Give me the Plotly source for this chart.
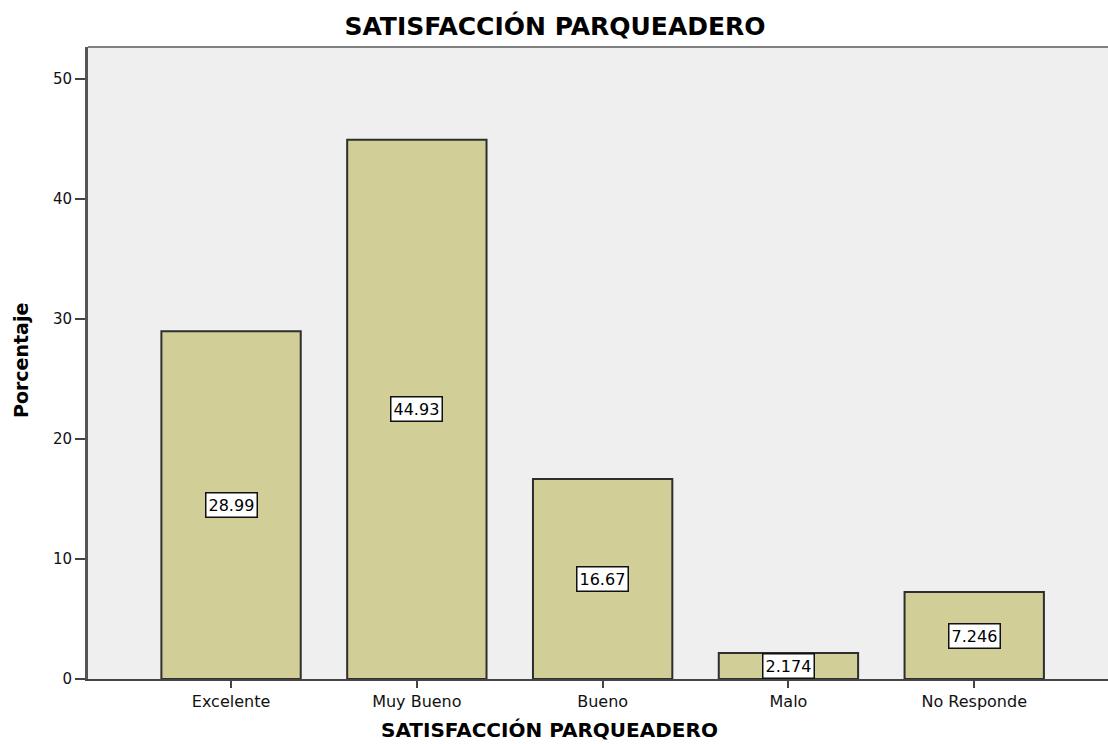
import plotly.graph_objects as go

categories = ["Excelente", "Muy Bueno", "Bueno", "Malo", "No Responde"]
values = [28.99, 44.93, 16.67, 2.174, 7.246]
labels = ["28.99", "44.93", "16.67", "2.174", "7.246"]
y_ticks = [0, 10, 20, 30, 40, 50]

FONT = "DejaVu Sans, Liberation Sans, Arial"

fig = go.Figure()
fig.add_trace(go.Bar(
    x=categories, y=values, width=0.75,
    marker=dict(color="#D2CE98", line=dict(color="#2e2e2e", width=2)),
    hoverinfo="skip",
))

for c, v, t in zip(categories, values, labels):
    fig.add_annotation(
        x=c, y=v / 2, text=t, showarrow=False,
        font=dict(family=FONT, size=16, color="#000"),
        bgcolor="white", bordercolor="#111", borderwidth=1.5, borderpad=2,
    )

# axis titles
fig.add_annotation(
    xref="paper", yref="paper", x=(549 - 88) / 1020, y=-(730 - 679) / 632,
    text="<b>SATISFACCIÓN PARQUEADERO</b>", showarrow=False,
    xanchor="center", yanchor="middle",
    font=dict(family=FONT, size=20, color="#000"),
)
fig.add_annotation(
    xref="paper", yref="paper", x=-(88 - 21) / 1020, y=(679 - 361) / 632,
    text="<b>Porcentaje</b>", showarrow=False, textangle=-90,
    xanchor="center", yanchor="middle",
    font=dict(family=FONT, size=19, color="#000"),
)
# top border
fig.add_shape(type="line", xref="paper", yref="paper", x0=0, x1=1, y0=1, y1=1,
              line=dict(color="#808080", width=2))

fig.update_layout(
    width=1108, height=744,
    margin=dict(l=88, r=0, t=47, b=65),
    paper_bgcolor="white", plot_bgcolor="#EFEFEF",
    showlegend=False,
    title=dict(text="<b>SATISFACCIÓN PARQUEADERO</b>", x=555 / 1108, xanchor="center",
               y=1 - 26 / 744, yanchor="middle",
               font=dict(family=FONT, size=25, color="#000")),
    font=dict(family=FONT, size=15, color="#000"),
)
fig.update_xaxes(
    type="category", range=[-0.77, 4.72],
    showline=True, linecolor="#444", linewidth=2,
    ticks="outside", ticklen=7, tickcolor="#444", tickwidth=2,
    showgrid=False, zeroline=False,
    tickfont=dict(family=FONT, size=16, color="#111"),
)
fig.update_yaxes(
    range=[0, 52.67], tickvals=y_ticks,
    showline=True, linecolor="#555", linewidth=3,
    ticks="outside", ticklen=10, tickcolor="#444", tickwidth=2,
    showgrid=False, zeroline=False,
    tickfont=dict(family=FONT, size=15, color="#111"),
)

fig.write_html("out.html", config={"displayModeBar": False},
               post_script="document.body.style.margin='0';")
